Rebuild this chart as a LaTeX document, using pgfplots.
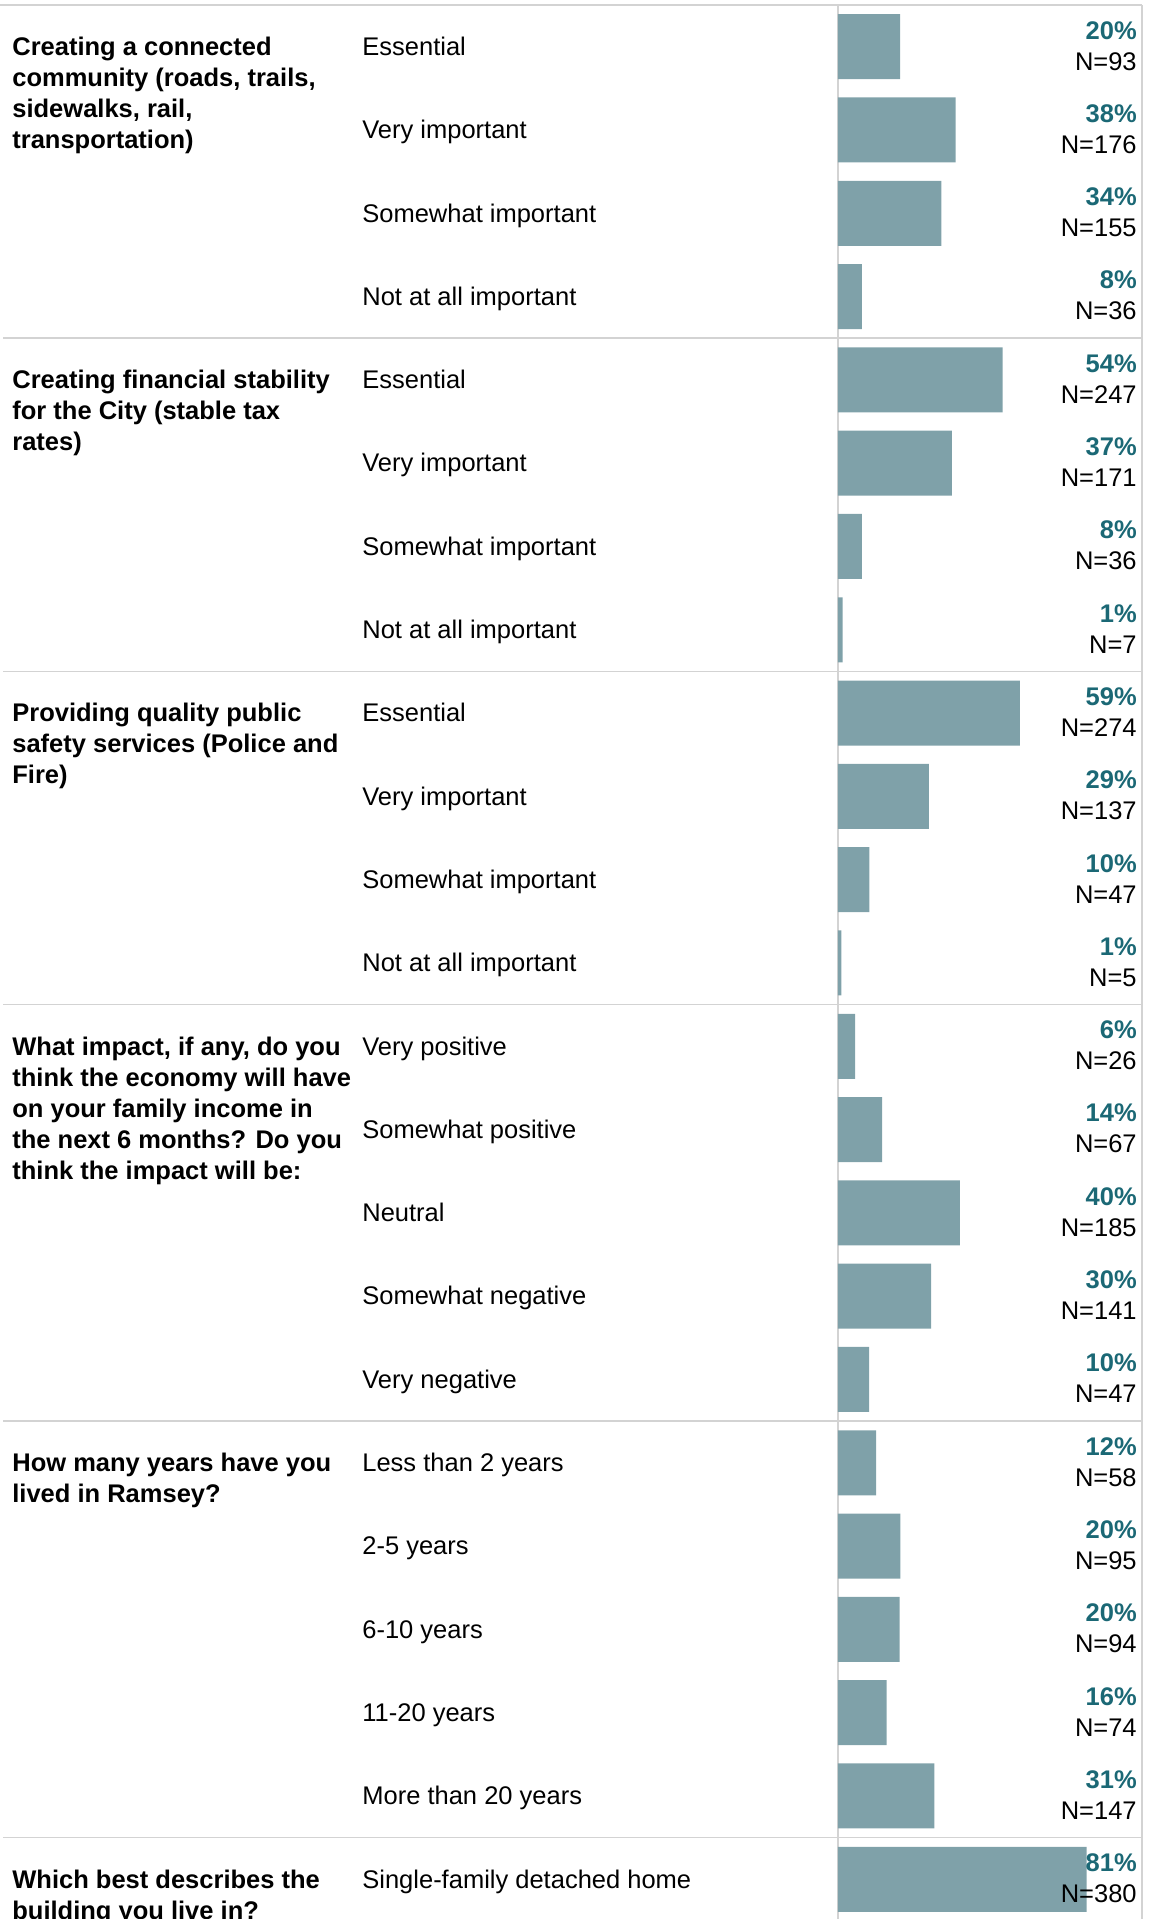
\documentclass[border=0pt]{standalone}
\usepackage{pgfplots}
\pgfplotsset{compat=1.18}
\usepackage{pgfplotstable}
\usepackage{fontspec}
\setmainfont{Liberation Sans}
\definecolor{barc}{HTML}{7FA1A9}
\definecolor{pctc}{HTML}{1B6875}
\definecolor{linec}{HTML}{D3D3D3}

\pgfplotstableread{
row frac pct n
0 0.202 20 93
1 0.383 38 176
2 0.337 34 155
3 0.078 8 36
4 0.536 54 247
5 0.371 37 171
6 0.078 8 36
7 0.015 1 7
8 0.592 59 274
9 0.296 29 137
10 0.102 10 47
11 0.011 1 5
12 0.056 6 26
13 0.144 14 67
14 0.397 40 185
15 0.303 30 141
16 0.101 10 47
17 0.124 12 58
18 0.203 20 95
19 0.201 20 94
20 0.158 16 74
21 0.314 31 147
22 0.810 81 380
}\datatab

\tikzset{gtitle/.style={anchor=base west, inner sep=0pt, xshift=-413pt, yshift=-4.4pt, font=\fontsize{12.75}{15.5}\selectfont\bfseries}}

\begin{document}
\begin{tikzpicture}[x=0.5pt,y=-0.5pt]
\useasboundingbox (0,0) rectangle (1157,1919);
\clip (0,0) rectangle (1157,1919);
\draw[linec, line width=0.8pt] (0,5) -- (1142,5);
\foreach \yy in {338.2,671.4,1004.6,1421.1,1837.6} \draw[linec, line width=0.8pt] (3,\yy) -- (1142,\yy);
\draw[linec, line width=0.8pt] (838,5) -- (838,1925) (1142,5) -- (1142,1925);
\begin{axis}[at={(419pt,-2.5pt)}, anchor=north west, scale only axis,
  width=152pt, height=957.95pt,
  xmin=0, xmax=0.990, ymin=-0.5, ymax=22.5, y dir=reverse,
  axis line style={draw=none}, tick style={draw=none}, major tick length=0pt,
  /pgf/number format/assume math mode=true,
  xtick=\empty, ytick={0,...,22},
  yticklabels={Essential,Very important,Somewhat important,Not at all important,
    Essential,Very important,Somewhat important,Not at all important,
    Essential,Very important,Somewhat important,Not at all important,
    Very positive,Somewhat positive,Neutral,Somewhat negative,Very negative,
    Less than 2 years,2-5 years,6-10 years,11-20 years,More than 20 years,
    Single-family detached home},
  yticklabel style={anchor=base west, inner sep=0pt, xshift=-238pt, yshift=-4.4pt, font=\fontsize{12.75}{15.5}\selectfont},
  clip=false]
\addplot[xbar, bar width=32.5pt, bar shift=0pt, fill=barc, draw=none] table[x=frac, y=row] {\datatab};
\addplot[only marks, mark=none, point meta=explicit,
  visualization depends on={\thisrow{n} \as \nval},
  nodes near coords={\begin{tabular}[t]{@{}r@{}}\textcolor{pctc}{\bfseries\pgfmathprintnumber[fixed,precision=0]{\pgfplotspointmeta}\%}\\N=\pgfmathprintnumber[fixed,precision=0]{\nval}\end{tabular}},
  nodes near coords style={anchor=base east, inner sep=0pt, yshift=3.8pt, font=\fontsize{12.75}{15.5}\selectfont}]
  table[x expr=0.974, y=row, meta=pct] {\datatab};
\node[gtitle] at (axis cs:0,0) {\begin{tabular}[t]{@{}l@{}}Creating a connected\\community (roads, trails,\\sidewalks, rail,\\transportation)\end{tabular}};
\node[gtitle] at (axis cs:0,4) {\begin{tabular}[t]{@{}l@{}}Creating financial stability\\for the City (stable tax\\rates)\end{tabular}};
\node[gtitle] at (axis cs:0,8) {\begin{tabular}[t]{@{}l@{}}Providing quality public\\safety services (Police and\\Fire)\end{tabular}};
\node[gtitle] at (axis cs:0,12) {\begin{tabular}[t]{@{}l@{}}What impact, if any, do you\\think the economy will have\\on your family income in\\the next 6 months? Do you\\think the impact will be:\end{tabular}};
\node[gtitle] at (axis cs:0,17) {\begin{tabular}[t]{@{}l@{}}How many years have you\\lived in Ramsey?\end{tabular}};
\node[gtitle] at (axis cs:0,22) {\begin{tabular}[t]{@{}l@{}}Which best describes the\\building you live in?\end{tabular}};
\end{axis}
\end{tikzpicture}
\end{document}
